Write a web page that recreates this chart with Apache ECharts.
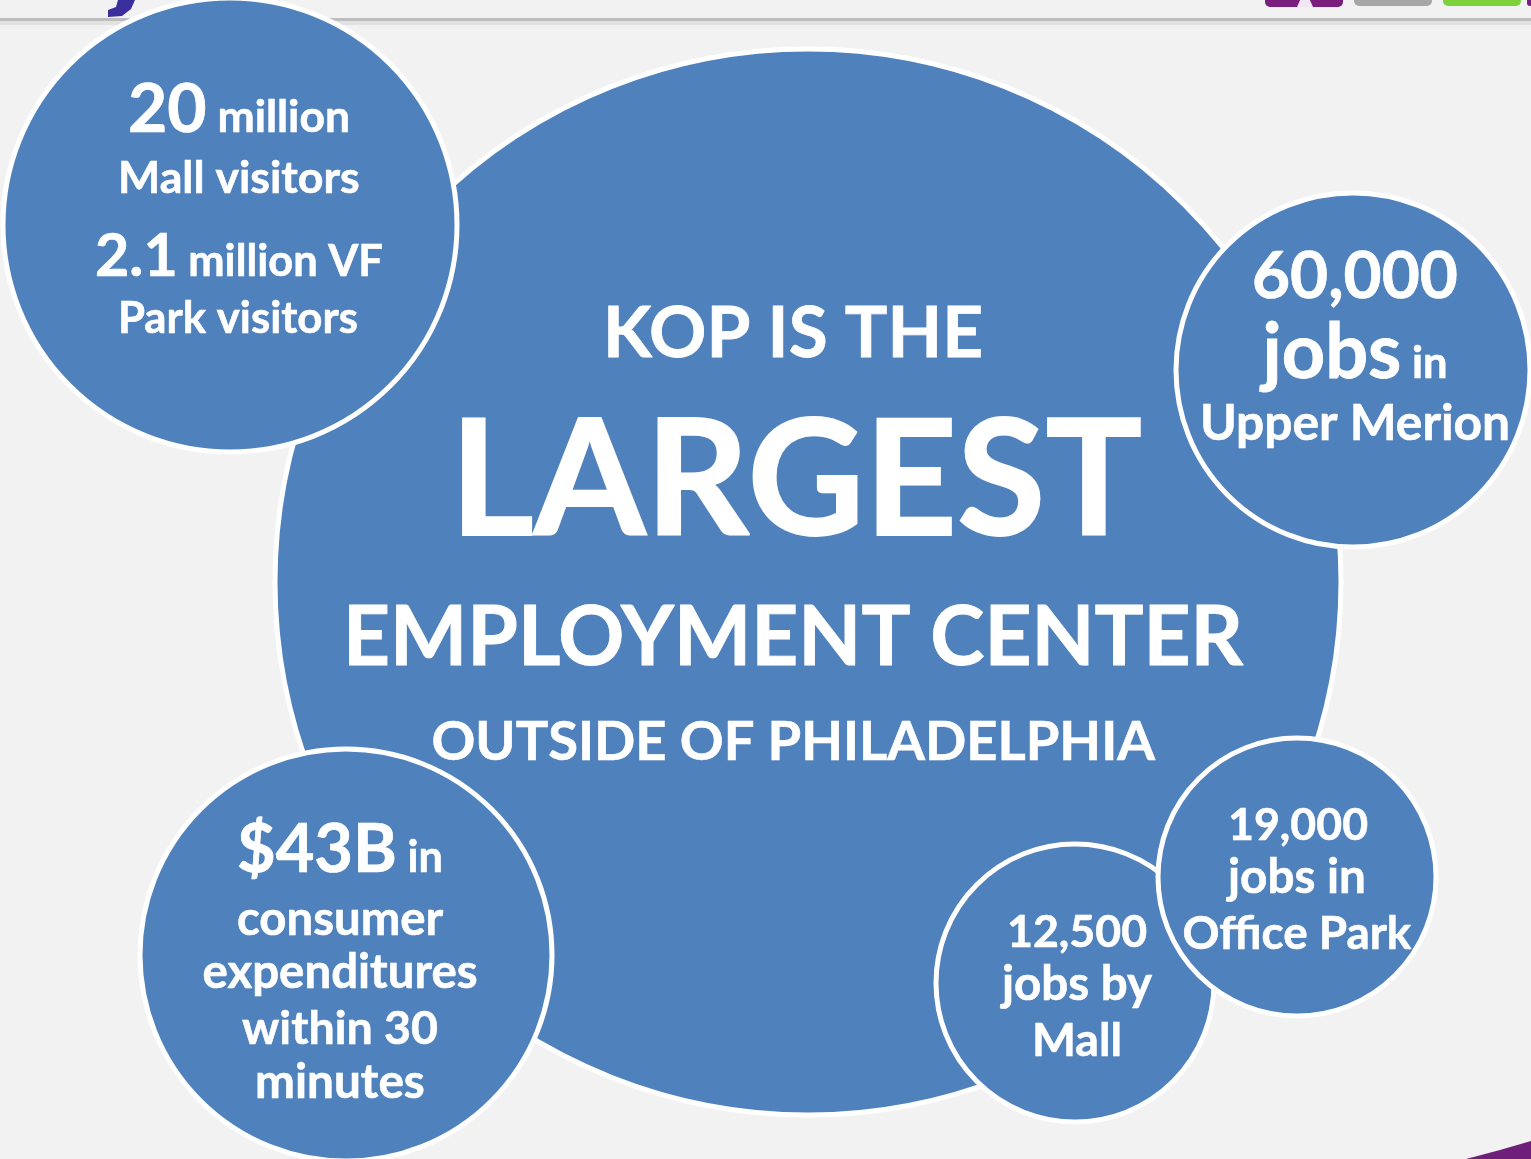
<!DOCTYPE html>
<html lang="en">
<head>
<meta charset="UTF-8">
<title>KOP - Largest Employment Center</title>
<style>
  html, body { margin: 0; padding: 0; background: #f2f2f2; }
  #main { width: 1531px; height: 1159px; }
</style>
<script src="https://cdn.jsdelivr.net/npm/echarts@6/dist/echarts.min.js"></script>
</head>
<body>
<div id="main"></div>
<script>
// bubbles (drawn in order, later ones sit on top)
var bubbleNames = ['KOP', 'Visitors', 'Upper Merion', 'Expenditures', 'Mall jobs', 'Office Park'];
var bubbleX = [808, 230, 1353, 346, 1075, 1297];
var bubbleY = [582, 225, 370, 955, 983, 877];
var bubbleR = [533, 227, 177, 206, 139, 139];

// text lines: segments [text, relative size]
var lineSegs = [
    [['20', 64], [' million', 42]],
    [['Mall visitors', 42]],
    [['2.1', 60], [' million VF', 44]],
    [['Park visitors', 42]],
    [['60,000', 80]],
    [['jobs', 80], [' in', 46]],
    [['Upper Merion', 48]],
    [['KOP IS THE', 85]],
    [['LARGEST', 190]],
    [['EMPLOYMENT CENTER', 96]],
    [['OUTSIDE OF PHILADELPHIA', 66]],
    [['$43B', 74], [' in', 48]],
    [['consumer', 46]],
    [['expenditures', 46]],
    [['within 30', 46]],
    [['minutes', 46]],
    [['12,500', 50]],
    [['jobs by', 50]],
    [['Mall', 50]],
    [['19,000', 50]],
    [['jobs in', 50]],
    [['Office Park', 50]]
];
// line centre x, baseline y, width
var lineX = [239, 239, 239, 238, 1355, 1355, 1355, 793, 796, 793, 793, 340, 340, 340, 340, 340, 1077, 1077, 1077, 1298, 1297, 1297];
var lineY = [132, 193, 276, 333, 298, 378, 440, 357, 535, 665, 760, 872, 935, 988, 1044, 1098, 947, 1000, 1056, 840, 893, 949];
var lineW = [222, 242, 288, 240, 206, 185, 310, 380, 692, 900, 723, 206, 206, 275, 196, 170, 140, 150, 90, 140, 138, 229];

var FONT = 'Lato';
var ctx = document.createElement('canvas').getContext('2d');
ctx.font = 'bold 100px ' + FONT;
ctx.textBaseline = 'middle';
var midToBase = ctx.measureText('H').actualBoundingBoxDescent / 100;

var myChart = echarts.init(document.getElementById('main'));

var option = {
    backgroundColor: '#f2f2f2',
    animation: false,
    grid: {left: 0, right: 0, top: 0, bottom: 0},
    xAxis: {type: 'value', min: 0, max: 1531, show: false},
    yAxis: {type: 'value', min: 0, max: 1159, inverse: true, show: false},
    graphic: [
        // header rule
        {type: 'rect', shape: {x: 0, y: 21, width: 1531, height: 4}, style: {fill: '#e2e2e2'}},
        {type: 'rect', shape: {x: 0, y: 18, width: 1531, height: 3}, style: {fill: '#bdbdbd'}},
        // bit of logo
        {type: 'polygon', shape: {points: [[118, 0], [135, 0], [131, 9], [122, 16], [108, 17], [108, 10], [116, 7]]},
            style: {fill: '#3a2f9c'}},
        // nav buttons
        {type: 'rect', shape: {x: 1265, y: -12, width: 78, height: 19, r: 5}, style: {fill: '#7a1f7e'}},
        {type: 'polygon', shape: {points: [[1297, 7], [1301, -2], [1309, -2], [1313, 7]]}, style: {fill: '#f3e6f3'}},
        {type: 'rect', shape: {x: 1354, y: -12, width: 78, height: 18, r: 5}, style: {fill: '#a7a7a7'}},
        {type: 'rect', shape: {x: 1443, y: -12, width: 78, height: 18, r: 5}, style: {fill: '#7fd13b'}},
        {type: 'rect', shape: {x: 1527, y: -12, width: 10, height: 18, r: 3}, style: {fill: '#7a1f7e'}},
        // corner swoosh
        {type: 'polygon', shape: {points: [[1466, 1159], [1500, 1150], [1531, 1141], [1531, 1159]]},
            style: {fill: '#6e1f7a'}}
    ],
    series: [
        {
            name: 'bubbles',
            type: 'custom',
            coordinateSystem: 'cartesian2d',
            data: bubbleNames.map(function (n, i) {
                return {name: n, value: [bubbleX[i], bubbleY[i], bubbleR[i]]};
            }),
            renderItem: function (params, api) {
                var c = api.coord([api.value(0), api.value(1)]);
                var r = api.size([api.value(2), 0])[0];
                return {
                    type: 'circle',
                    z2: params.dataIndex,
                    shape: {cx: c[0], cy: c[1], r: r},
                    style: {fill: '#4f81bd', stroke: '#ffffff', lineWidth: 5}
                };
            }
        },
        {
            name: 'labels',
            type: 'custom',
            coordinateSystem: 'cartesian2d',
            z: 5,
            data: lineX.map(function (x, i) {
                return [x, lineY[i], lineW[i]];
            }),
            renderItem: function (params, api) {
                var i = params.dataIndex;
                var p = api.coord([api.value(0), api.value(1)]);
                var w = api.size([api.value(2), 0])[0];
                var segs = lineSegs[i];
                var widths = [], total = 0;
                segs.forEach(function (s) {
                    ctx.font = 'bold ' + s[1] + 'px ' + FONT;
                    var ww = ctx.measureText(s[0]).width;
                    widths.push(ww);
                    total += ww;
                });
                var k = w / total;
                var x = p[0] - w / 2;
                var children = segs.map(function (s, j) {
                    var fs = s[1] * k;
                    var el = {
                        type: 'text',
                        x: x,
                        y: p[1] - midToBase * fs,
                        style: {
                            text: s[0],
                            font: 'bold ' + fs.toFixed(1) + 'px ' + FONT,
                            fill: '#ffffff',
                            stroke: '#ffffff',
                            lineWidth: Math.max(0.6, fs * 0.011),
                            lineJoin: 'round',
                            align: 'left',
                            verticalAlign: 'middle'
                        }
                    };
                    x += widths[j] * k;
                    return el;
                });
                return {type: 'group', children: children};
            }
        }
    ]
};

myChart.setOption(option);
</script>
</body>
</html>
